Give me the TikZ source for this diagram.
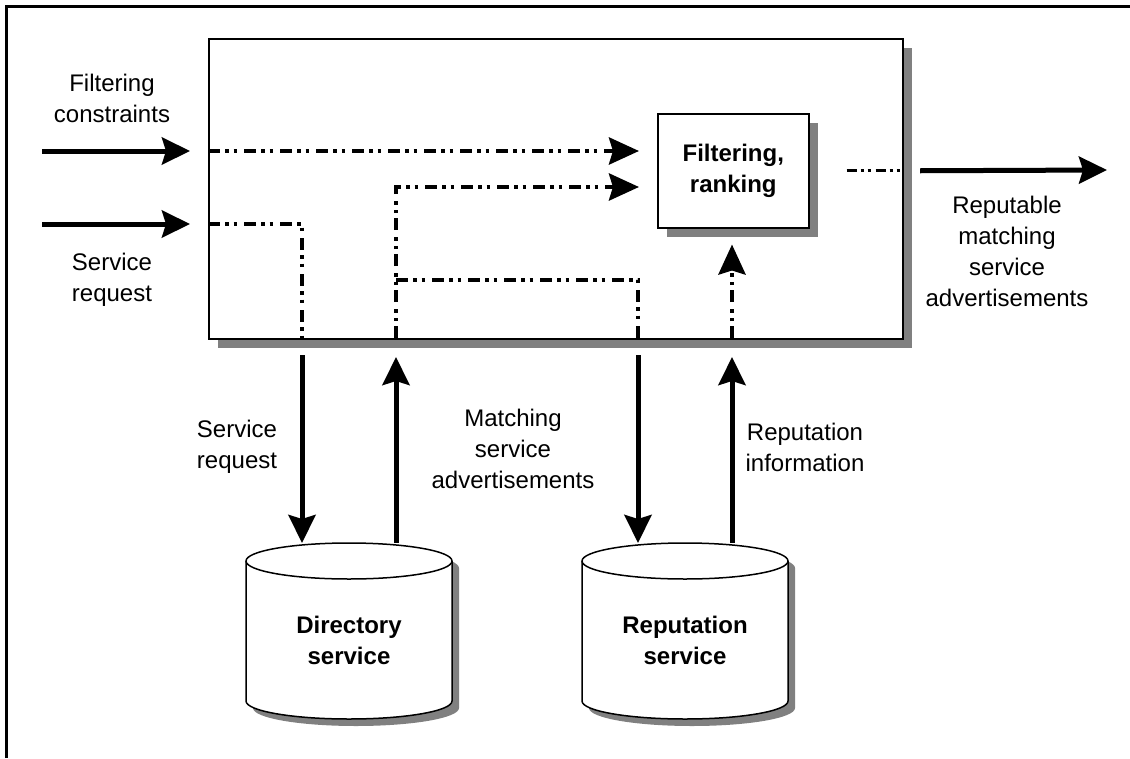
\documentclass[tikz,border=0pt]{standalone}
\usepackage{fontspec}
\setmainfont{Liberation Sans}
\usetikzlibrary{arrows.meta,shadows,calc}

\begin{document}
\begin{tikzpicture}[x=1pt,y=-1pt,
  box/.style={draw=black, fill=white, inner sep=0pt},
  boxshade/.style={drop shadow={shadow xshift=9pt, shadow yshift=-9pt, fill=gray, opacity=1}},
  lbl/.style={align=center, font=\fontsize{24}{31}\selectfont, inner sep=0pt},
  bold/.style={align=center, font=\fontsize{24}{31}\selectfont\bfseries, inner sep=0pt},
  flow/.style={line width=5pt, -{Stealth[length=28pt,width=27pt,inset=4pt]}},
  ddot/.style={line width=4.5pt, dash pattern=on 12pt off 5pt on 3.5pt off 5pt on 3.5pt off 7pt},
  ddarrow/.style={ddot, -{Stealth[length=30pt,width=27pt,inset=4pt]}},
  outdash/.style={line width=3pt, dash pattern=on 10pt off 4pt on 3pt off 4pt on 3pt off 5pt},
  pics/drum/.style={code={
    % shadow of the drum
    \fill[gray] (-96,7) -- (-96,147) arc[start angle=180, end angle=0, x radius=103, y radius=18]
      -- (110,7) arc[start angle=0, end angle=-180, x radius=103, y radius=18] -- cycle;
    % body and top rim
    \path[draw=black, line width=1.5pt, fill=white] (-103,0) -- (-103,140)
      arc[start angle=180, end angle=0, x radius=103, y radius=18]
      -- (103,0) arc[start angle=0, end angle=-180, x radius=103, y radius=18] -- cycle;
    \draw[line width=1.5pt] (-103,0) arc[start angle=180, end angle=0, x radius=103, y radius=18];
  }}
]
\useasboundingbox (0,0) rectangle (1130,758);
\fill[white] (0,0) rectangle (1130,758);

% frame edges
\draw[line width=3pt] (6.5,758) -- (6.5,6.5) -- (1130,6.5);

% main component and its inner filtering step
\node[box, line width=2pt, boxshade, minimum width=694pt, minimum height=300pt, anchor=north west]
  (main) at (208,38) {};
\node[box, line width=1.5pt, boxshade, minimum width=151pt, minimum height=114pt, anchor=north west]
  (filt) at (657,113) {};
\node[bold] (filtlbl) at (filt.center) {Filtering,\\ranking};

% data stores
\pic at (349,561) {drum};
\pic at (685,561) {drum};
\node[bold] (dir) at (349,640) {Directory\\service};
\node[bold] (rep) at (685,640) {Reputation\\service};
\coordinate (dirtop) at (349,543);
\coordinate (reptop) at (685,543);

% points where flows cross the lower edge of the main component
\coordinate (bSR) at (302,338);
\coordinate (bMA) at (396,338);
\coordinate (bRR) at (638,338);
\coordinate (bRI) at (732,338);

% external inputs
\coordinate (fcIn) at (42,151);
\coordinate (srIn) at (42,224);
\draw[flow] (fcIn) -- ([xshift=-18pt]main.west |- fcIn);
\draw[flow] (srIn) -- ([xshift=-18pt]main.west |- srIn);
\node[lbl] (lblFC) at (112,98) {Filtering\\constraints};
\node[lbl] (lblSR) at (112,280) {Service\\request};

% internal flows
\draw[ddarrow] (main.west |- fcIn) -- ([xshift=-18pt]filt.west |- fcIn);
\draw[ddot] (main.west |- srIn) -| (bSR);
\coordinate (maTurn) at (396,187);
\draw[ddarrow] (bMA) -- (maTurn) -- ([xshift=-18pt]filt.west |- maTurn);
\coordinate (brStart) at (396,280);
\draw[ddot] (brStart) -| (bRR);
\draw[ddarrow] (bRI) -- ([yshift=-16pt]filt.south -| bRI);

% output
\draw[outdash] ([xshift=37pt]filt.east) -- (main.east |- filt.east);
\coordinate (outTip) at (1107,170);
\draw[flow] ([xshift=16pt]main.east |- filt.east) -- (outTip);
\node[lbl] (lblOut) at (1007,251) {Reputable\\matching\\service\\advertisements};

% exchanges with the data stores
\draw[flow] ([yshift=-17pt]bSR) -- (bSR |- dirtop);
\draw[flow] (bMA |- dirtop) -- ([yshift=-19pt]bMA);
\draw[flow] ([yshift=-17pt]bRR) -- (bRR |- reptop);
\draw[flow] (bRI |- reptop) -- ([yshift=-19pt]bRI);
\node[lbl] (lblSR2) at (237,447) {Service\\request};
\node[lbl] (lblMA) at (513,449) {Matching\\service\\advertisements};
\node[lbl] (lblRI) at (805,447) {Reputation\\information};
\end{tikzpicture}
\end{document}
